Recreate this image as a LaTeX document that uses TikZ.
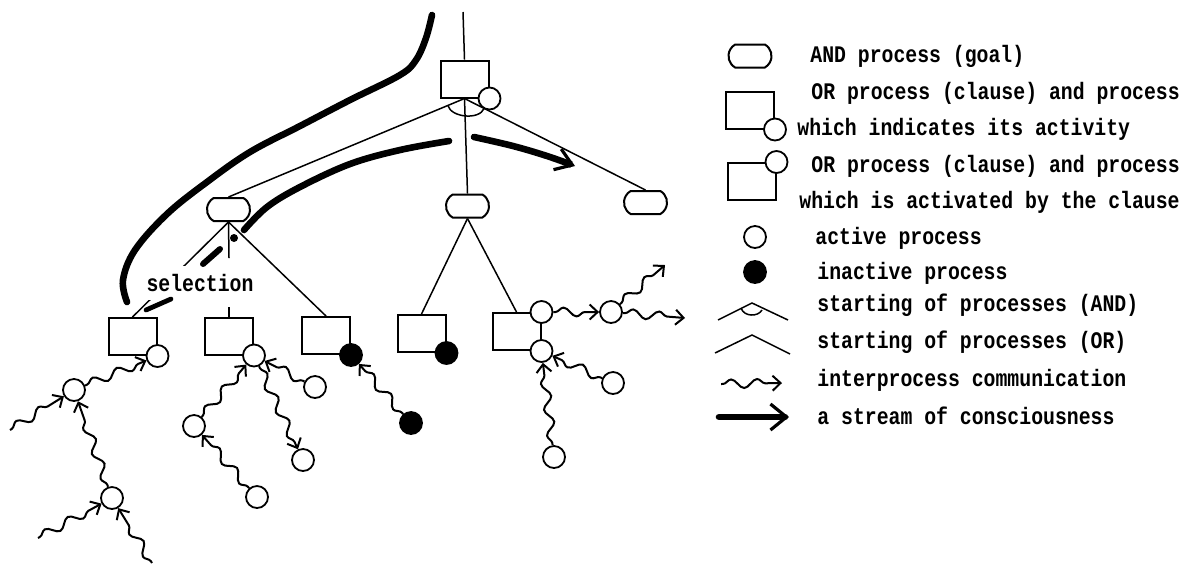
\documentclass[tikz,border=0pt]{standalone}
\usepackage{graphicx}
\usepackage{fontspec}
\setmonofont{Liberation Mono}
\usetikzlibrary{shapes.misc,decorations.pathmorphing,arrows.meta,calc}
\newcommand{\talltext}[1]{\scalebox{1}[1.2]{#1}}
\begin{document}
\begin{tikzpicture}[x=0.5pt,y=-0.5pt,
  clause/.style={draw, line width=1pt, rectangle, minimum width=24pt, minimum height=18.5pt, inner sep=0pt},
  goal/.style={draw, line width=1pt, rounded rectangle, rounded rectangle arc length=120, minimum width=21.5pt, minimum height=11.5pt, inner sep=0pt},
  proc/.style={draw, circle, line width=0.9pt, fill=white, minimum size=11pt, inner sep=0pt},
  dead/.style={proc, fill=black},
  tree/.style={line width=0.75pt},
  comm/.style={line width=1pt, decorate, decoration={snake, amplitude=2.2pt, segment length=13pt, pre length=1pt, post length=4pt}, -{Straight Barb[length=4pt,width=7.5pt]}},
  stream/.style={line width=3.3pt, line cap=round},
  streamtip/.style={-{Straight Barb[length=8pt,width=11pt,line width=1.6pt]}},
  lbl/.style={anchor=west, inner sep=0pt, font=\ttfamily\bfseries\fontsize{9.9}{12}\selectfont},
]
\useasboundingbox (0,0) rectangle (1186,564);

% ---------- tree nodes ----------
\node[clause] (T) at (464.5,79) {};
\node[goal] (G1) at (228.5,209.5) {};
\node[goal] (G2) at (467.5,206) {};
\node[goal] (G3) at (645.5,202.5) {};
\node[clause] (B1) at (132.5,336.5) {};
\node[clause] (B2) at (229,336) {};
\node[clause] (B3) at (326,335.5) {};
\node[clause] (B4) at (421.5,333.5) {};
\node[clause] (B5) at (516.5,331.5) {};

\node[proc] (c0) at (T.south east) {};
\node[proc] (c1) at (B1.south east) {};
\node[proc] (c2) at (B2.south east) {};
\node[dead] (c3) at (B3.south east) {};
\node[dead] (c4) at (B4.south east) {};
\node[proc] (c5a) at (B5.north east) {};
\node[proc] (c5b) at (B5.south east) {};

\node[proc] (A) at (74,390) {};
\node[proc] (B) at (112,498) {};
\node[proc] (C) at (194,426) {};
\node[proc] (D) at (257,497) {};
\node[proc] (E) at (315,387) {};
\node[proc] (F) at (303,460) {};
\node[dead] (G) at (411,423) {};
\node[proc] (H) at (611,312) {};
\node[proc] (I) at (613,383) {};
\node[proc] (J) at (554,457) {};

\coordinate (t0) at (463,12);
\coordinate (a1) at (10,430);
\coordinate (b1) at (38,538);
\coordinate (b2) at (152,563);
\coordinate (h1) at (665,265);
\coordinate (h2) at (685,318);
\coordinate (v1) at (229,258);
\coordinate (v2) at (229,307);

% ---------- tree edges ----------
\draw[tree] (t0) -- (T.north);
\draw[tree] (T.south) -- (G1.north);
\draw[tree] (T.south) -- (G2.north);
\draw[tree] (T.south) -- (G3.north);
\draw[tree] ($(T.south)!9pt!(G1.north)$) .. controls +(3,12) and +(-5,12) .. ($(T.south)!11pt!(G3.north)$);
\draw[tree] (G1.south) -- (B1.north);
\draw[tree] (G1.south) -- (v1);
\draw[tree] (v2) -- (B2.north);
\draw[tree] (G1.south) -- (B3.north);
\draw[tree] (G2.south) -- (B4.north);
\draw[tree] (G2.south) -- (B5.north);

\node[lbl, anchor=center, fill=white, minimum height=17pt, inner xsep=1pt] (sel) at (200,283) {\talltext{selection}};

% ---------- interprocess communication ----------
\draw[comm] (A) -- (c1);
\draw[comm] (a1) -- (A);
\draw[comm] (B) -- (A);
\draw[comm] (b1) -- (B);
\draw[comm] (b2) -- (B);
\draw[comm] (C) -- (c2);
\draw[comm] (D) -- (C);
\draw[comm] (E) -- (c2);
\draw[comm] (c2) -- (F);
\draw[comm] (G) -- (c3);
\draw[comm] (c5a) -- (H);
\draw[comm] (H) -- (h1);
\draw[comm] (H) -- (h2);
\draw[comm] (I) -- (c5b);
\draw[comm] (J) -- (c5b);

% ---------- streams of consciousness ----------
\draw[stream] plot[smooth, tension=0.6] coordinates {(432,15) (426,38) (416,60) (400,75) (350,100) (300,126) (250,152) (207,182) (167,214) (135,250) (123,280) (127,302)};
\draw[line width=2.4pt, line cap=round] (146,310) -- (171,299);
\draw[line width=3pt, line cap=round] (203,264) -- (220,249);
\fill (234,238) circle (2pt);
\draw[stream] plot[smooth, tension=0.6] coordinates {(244,230) (267,207) (300,187) (350,164) (400,150) (449,141)};
\draw[stream, streamtip] plot[smooth, tension=0.6] coordinates {(474,137) (513,146) (547,156) (575,166)};

% ---------- legend ----------
\node[goal] (LG) at (750,56) {};
\node[clause] (LB1) at (750,110) {};
\node[proc] (LC1) at (LB1.south east) {};
\node[clause] (LB2) at (751.5,181.5) {};
\node[proc] (LC2) at (LB2.north east) {};
\node[proc] (LA) at (755,237) {};
\node[dead] (LI) at (755,272) {};
\coordinate (la1) at (718,320);
\coordinate (la2) at (752,303);
\coordinate (la3) at (788,320);
\draw[tree] (la1) -- (la2) -- (la3);
\draw[tree] (741,308) .. controls (744,317) and (758,317) .. (762,310);
\coordinate (lo1) at (715,353);
\coordinate (lo2) at (752,335);
\coordinate (lo3) at (790,354);
\draw[tree] (lo1) -- (lo2) -- (lo3);
\coordinate (lw1) at (721,384);
\coordinate (lw2) at (782,383);
\draw[comm] (lw1) -- (lw2);
\coordinate (ls1) at (719,417);
\coordinate (ls2) at (789,417);
\draw[stream, -{Straight Barb[length=8pt,width=13pt,line width=1.6pt]}] (ls1) -- (ls2);

\node[lbl] (t1) at (810,56) {\talltext{AND process (goal)}};
\node[lbl] (t2) at (811,93) {\talltext{OR process (clause) and process}};
\node[lbl] (t3) at (797,129) {\talltext{which indicates its activity}};
\node[lbl] (t4) at (811,166) {\talltext{OR process (clause) and process}};
\node[lbl] (t5) at (799,202) {\talltext{which is activated by the clause}};
\node[lbl] (t6) at (815,238) {\talltext{active process}};
\node[lbl] (t7) at (817,273) {\talltext{inactive process}};
\node[lbl] (t8) at (817,305) {\talltext{starting of processes (AND)}};
\node[lbl] (t9) at (817,342) {\talltext{starting of processes (OR)}};
\node[lbl] (t10) at (817,380) {\talltext{interprocess communication}};
\node[lbl] (t11) at (817,416) {\talltext{a stream of consciousness}};
\end{tikzpicture}
\end{document}
